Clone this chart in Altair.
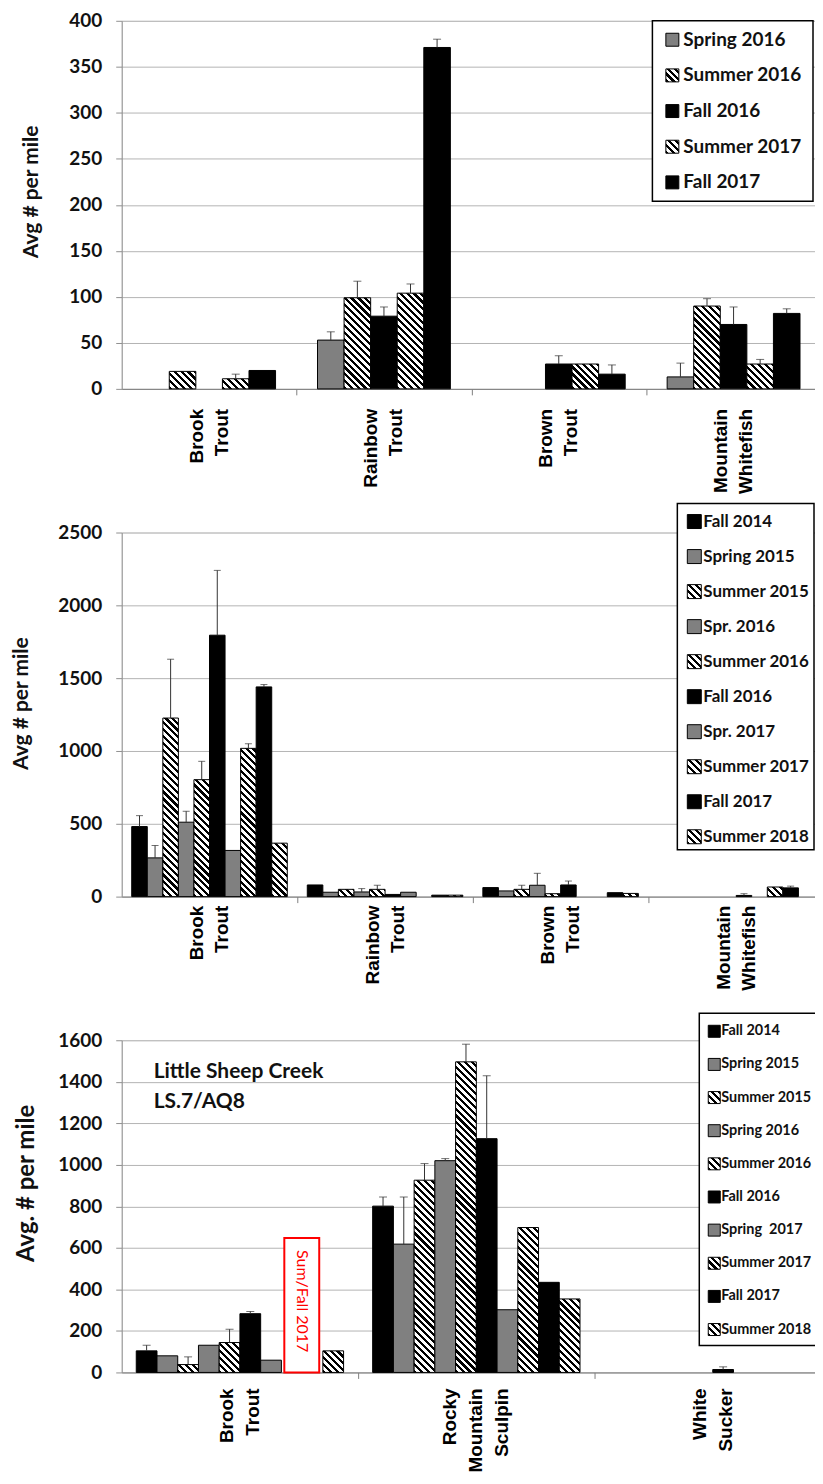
import math
import altair as alt

# ---------------- data ----------------
P1_SPECIES = ["Brook Trout", "Rainbow Trout", "Brown Trout", "Mountain Whitefish"]
P1_SERIES = ["Spring 2016", "Summer 2016", "Fall 2016", "Summer 2017", "Fall 2017"]
P1_STYLE = ["gray", "hatch", "black", "hatch", "black"]
P1_VALUES = [
    [None, 19, None, 11, 20],
    [53, 99, 79, 104, 371],
    [None, None, 27, 27, 16],
    [13, 90, 70, 27, 82],
]
P1_ERRTOP = [
    [None, None, None, 16, None],
    [62, 117, 89, 114, 380],
    [None, None, 36, None, 26],
    [28, 98, 89, 32, 87],
]

P2_SPECIES = ["Brook Trout", "Rainbow Trout", "Brown Trout", "Mountain Whitefish"]
P2_SERIES = ["Fall 2014", "Spring 2015", "Summer 2015", "Spr. 2016", "Summer 2016",
             "Fall 2016", "Spr. 2017", "Summer 2017", "Fall 2017", "Summer 2018"]
P2_STYLE = ["black", "gray", "hatch", "gray", "hatch", "black", "gray", "hatch", "black", "hatch"]
P2_VALUES = [
    [481, 266, 1226, 511, 803, 1795, 317, 1018, 1440, 367],
    [80, 30, 50, 32, 50, 15, 30, None, 10, 10],
    [62, 39, 50, 78, 20, 80, None, None, 27, 22],
    [None, None, None, None, None, 8, None, 66, 60, None],
]
P2_ERRTOP = [
    [556, 351, 1630, 586, 929, 2240, None, 1050, 1456, None],
    [None, None, None, 55, 78, None, None, None, None, None],
    [None, None, 78, 160, None, 107, None, None, None, None],
    [None, None, None, None, None, 20, None, None, 72, None],
]

P3_SPECIES = ["Brook Trout", "Rocky Mountain Sculpin", "White Sucker"]
P3_SERIES = ["Fall 2014", "Spring 2015", "Summer 2015", "Spring 2016", "Summer 2016",
             "Fall 2016", "Spring \u00a02017", "Summer 2017", "Fall 2017", "Summer 2018"]
P3_STYLE = ["black", "gray", "hatch", "gray", "hatch", "black", "gray", "hatch", "black", "hatch"]
P3_VALUES = [
    [104, 80, 38, 131, 144, 283, 59, None, None, 104],
    [801, 618, 926, 1020, 1496, 1126, 302, 698, 434, 354],
    [None, None, None, None, None, 14, None, None, None, None],
]
P3_ERRTOP = [
    [131, None, 75, None, 208, 294, None, None, None, None],
    [845, 845, 1006, 1030, 1581, 1429, None, None, None, None],
    [None, None, None, None, None, 27, None, None, None, None],
]
P3_NOTE = ["Little Sheep Creek", "LS.7/AQ8"]
P3_BOX_LABEL = "Sum/Fall 2017"
P3_BOX_TOP = 647

# ---------------- styling helpers ----------------
FONT_C = "Lato"
FONT_A = "Liberation Sans"
GRAY = "#808080"
BLACK = "#000000"


def hatch(w, h, period=4.9, frac=0.45):
    """Diagonal (\\) hatch as a hard-stop linear gradient sized to the bar in pixels."""
    w = max(w, 1.0)
    h = max(h, 1.0)
    s = (w + h) / (w * w + h * h)
    x2 = s * w
    y2 = 1 - s * h
    if abs(y2) < 1e-6:
        y2 = 1e-6
    D = (w + h) / math.sqrt(2)
    q = period / D
    stops = []
    t = 0.0
    while t < 1:
        a = t
        b = min(t + frac * q, 1)
        c = min(t + q, 1)
        stops += [(a, BLACK), (b, BLACK), (b, "#ffffff"), (c, "#ffffff")]
        t += q
    return {"gradient": "linear", "x1": 0, "y1": 1, "x2": round(x2, 5), "y2": round(y2, 5),
            "stops": [{"offset": round(o, 5), "color": col} for o, col in stops]}


def style_fill(style, w, h):
    if style == "hatch":
        return hatch(w, h)
    if style == "gray":
        return GRAY
    return BLACK


def label_layers(species, xenc, top, lh):
    """Category names as centred, rotated multi-line text under each band."""
    by_off = {}
    for sp in species:
        words = sp.split(" ")
        n = len(words)
        for k, w in enumerate(words):
            off = (k - (n - 1) / 2) * lh
            by_off.setdefault(off, []).append({"species": sp, "w": w})
    layers = []
    for off, rows in by_off.items():
        layers.append(alt.Chart(alt.Data(values=rows)).mark_text(
            angle=270, align="right", baseline="middle", font=FONT_A, fontSize=19,
            fontWeight="bold", color="#000", xOffset=off).encode(
            x=xenc, y=alt.value(top), text="w:N"))
    return layers


def panel(species, series, styles, values, errtop, W, H, PI, ymax, ystep, title, title_size,
          title_x, title_y, label_pad, line_h, cap, leg, extra=None):
    n = len(species)
    step = W / n
    bw = step * (1 - PI) / len(series)
    bars, errs = [], []
    for i, sp in enumerate(species):
        for j, se in enumerate(series):
            v = values[i][j]
            if v is None:
                continue
            bars.append({"species": sp, "series": se, "v": v,
                         "fill": style_fill(styles[j], bw, v / ymax * H)})
            e = errtop[i][j]
            if e is not None:
                errs.append({"species": sp, "series": se, "v": v, "e": e})

    xax = alt.Axis(title=None, labels=False, tickSize=6,
                   tickColor="#808080", tickOffset=step / 2,
                   domainColor="#808080", grid=False)
    xenc = alt.X("species:N", sort=species,
                 scale=alt.Scale(domain=species, paddingInner=PI, paddingOuter=PI / 2),
                 axis=xax)
    xoff = alt.XOffset("series:N", sort=series,
                       scale=alt.Scale(domain=series, paddingInner=0, paddingOuter=0))
    yax = alt.Axis(title=title, values=list(range(0, ymax + 1, ystep)), format="d",
                   titleFont=FONT_C,
                   titleFontSize=title_size, titleFontWeight="bold", titleColor="#111",
                   titleX=title_x, titleY=title_y, titleAngle=270, titleAlign="center",
                   titleBaseline="middle", labelFont=FONT_C, labelFontSize=19,
                   labelFontWeight="bold", labelColor="#111", labelPadding=14, tickSize=6,
                   tickColor="#909090", domainColor="#909090", gridColor="#b4b4b4")
    yscale = alt.Scale(domain=[0, ymax], nice=False)

    bar_layer = alt.Chart(alt.Data(values=bars)).mark_bar(stroke="#000", strokeWidth=1).encode(
        x=xenc, xOffset=xoff,
        y=alt.Y("v:Q", scale=yscale, axis=yax, stack=None),
        fill=alt.Fill("fill:N", scale=None),
    )
    rule_layer = alt.Chart(alt.Data(values=errs)).mark_rule(color="#333", strokeWidth=1).encode(
        x=xenc, xOffset=xoff,
        y=alt.Y("v:Q", scale=yscale, axis=yax), y2="e:Q",
    )
    cap_layer = alt.Chart(alt.Data(values=errs)).mark_tick(
        orient="horizontal", size=cap, thickness=1, color="#333").encode(
        x=xenc, xOffset=xoff,
        y=alt.Y("e:Q", scale=yscale, axis=yax),
    )
    data_layers = [bar_layer, rule_layer, cap_layer]
    data_layers += label_layers(species, xenc, H + 6 + label_pad, line_h)
    if extra is not None:
        data_layers += extra(xenc, yscale, yax)
    data_layer = alt.layer(*data_layers)

    labels, lstyles = leg["labels"], leg["styles"]
    side = leg["side"]
    lrows = [{"label": lab, "fill": style_fill(st, side, side)} for lab, st in zip(labels, lstyles)]
    lscale = alt.Scale(type="point", domain=labels, range=[leg["y0"], leg["y1"]], padding=0)
    box = alt.Chart(alt.Data(values=[{"k": 1}])).mark_rect(
        fill="white", stroke="#000", strokeWidth=1.5).encode(
        x=alt.value(leg["bx0"]), x2=alt.value(leg["bx1"]),
        y=alt.value(leg["by0"]), y2=alt.value(leg["by1"]),
    )
    sw = alt.Chart(alt.Data(values=lrows)).mark_point(
        shape="square", filled=True, size=side * side, stroke="#000", strokeWidth=1, opacity=1).encode(
        x=alt.value(leg["sx"]),
        y=alt.Y("label:N", scale=lscale, axis=None),
        fill=alt.Fill("fill:N", scale=None),
    )
    tx = alt.Chart(alt.Data(values=lrows)).mark_text(
        align="left", baseline="middle", font=FONT_C, fontSize=leg["fs"],
        fontWeight="bold", color="#111").encode(
        x=alt.value(leg["tx"]),
        y=alt.Y("label:N", scale=lscale, axis=None),
        text="label:N",
    )
    legend_layer = alt.layer(box, sw, tx)

    return alt.layer(data_layer, legend_layer).resolve_scale(y="independent").properties(
        width=W, height=H)


def p3_extra(xenc, yscale, yax):
    note = alt.Chart(alt.Data(values=[{"t": P3_NOTE}])).mark_text(
        align="left", baseline="middle", font=FONT_C, fontSize=21, fontWeight="bold",
        color="#111", lineHeight=30).encode(
        x=alt.value(32), y=alt.value(32), text="t:N")
    box = alt.Chart(alt.Data(values=[{"species": "Brook Trout", "top": P3_BOX_TOP, "b": 0}])).mark_bar(
        width=35, fill="white", stroke="red", strokeWidth=2, xOffset=62).encode(
        x=xenc, y=alt.Y("top:Q", scale=yscale, axis=yax), y2="b:Q")
    lab = alt.Chart(alt.Data(values=[{"species": "Brook Trout", "top": P3_BOX_TOP,
                                      "t": P3_BOX_LABEL}])).mark_text(
        angle=90, align="left", baseline="middle", font=FONT_C, fontSize=16, color="red",
        dx=12, xOffset=62).encode(
        x=xenc, y=alt.Y("top:Q", scale=yscale, axis=yax), text="t:N")
    return [note, box, lab]


c1 = panel(P1_SPECIES, P1_SERIES, P1_STYLE, P1_VALUES, P1_ERRTOP,
           W=701, H=369, PI=0.24, ymax=400, ystep=50, title="Avg # per mile", title_size=21,
           title_x=-90, title_y=171, label_pad=14, line_h=25, cap=8,
           leg=dict(labels=P1_SERIES, styles=P1_STYLE, side=13, y0=19, y1=162,
                    bx0=532, bx1=693, by0=0, by1=181, sx=552, tx=563, fs=19))
c2 = panel(P2_SPECIES, P2_SERIES, P2_STYLE, P2_VALUES, P2_ERRTOP,
           W=704, H=365, PI=0.114, ymax=2500, ystep=500, title="Avg # per mile", title_size=21,
           title_x=-100, title_y=171, label_pad=3, line_h=25, cap=7,
           leg=dict(labels=P2_SERIES, styles=P2_STYLE, side=14, y0=-11, y1=305,
                    bx0=557, bx1=694, by0=-29, by1=318, sx=574, tx=583, fs=17))
c3 = panel(P3_SPECIES, P3_SERIES, P3_STYLE, P3_VALUES, P3_ERRTOP,
           W=711, H=333, PI=0.123, ymax=1600, ystep=200, title="Avg. # per mile", title_size=24,
           title_x=-95, title_y=143, label_pad=10, line_h=26, cap=8,
           leg=dict(labels=P3_SERIES, styles=P3_STYLE, side=12, y0=-9, y1=290,
                    bx0=579, bx1=720, by0=-27, by1=306, sx=594, tx=601, fs=14.5),
           extra=p3_extra)

chart = alt.vconcat(c1, c2, c3, spacing=144, bounds="flush").resolve_scale(
    x="independent", xOffset="independent", y="independent"
).properties(
    padding={"left": 2, "top": 1, "right": -27, "bottom": 0}
).configure_view(stroke=None).configure(background="white")

chart.save("out.html", embed_options={"renderer": "svg", "actions": False})
